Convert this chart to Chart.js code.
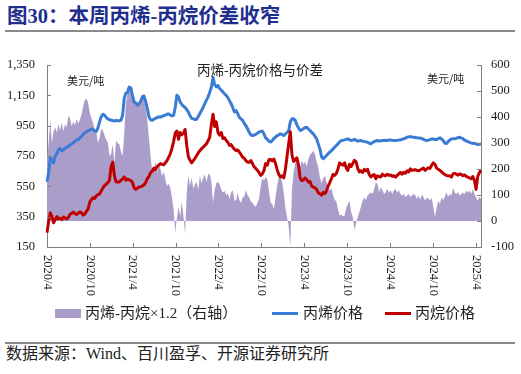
<!DOCTYPE html>
<html lang="zh">
<head>
  <meta charset="UTF-8">
  <title>图30：本周丙烯-丙烷价差收窄</title>
  <script src="https://cdn.jsdelivr.net/npm/chart.js"></script>
  <style>
    body { margin: 0; width: 521px; height: 374px; background: #fff; position: relative; overflow: hidden;
           font-family: "Liberation Serif", "Noto Sans CJK SC", serif; color: #222; }
    .title { position: absolute; left: 7px; top: 4px; font-size: 20.5px; font-weight: bold; color: #1f2f8f; white-space: nowrap; line-height: 24px; }
    .rule { position: absolute; left: 5px; width: 510px; height: 2px; background: #8a8a8a; }
    #wrap { position: absolute; left: 0; top: 40px; width: 521px; height: 265px; }
    .lg { position: absolute; font-size: 15px; line-height: 18px; top: 304px; white-space: nowrap; color: #222; }
    .sw { position: absolute; }
    .source { position: absolute; left: 6px; top: 344px; font-size: 16px; line-height: 19px; white-space: nowrap; color: #222; }
  </style>
</head>
<body>
  <div class="title">图30：本周丙烯-丙烷价差收窄</div>
  <div class="rule" style="top:30px"></div>

  <div id="wrap"><canvas id="chart" width="521" height="265"></canvas></div>

  <!-- legend -->
  <div class="sw" style="left:55px;top:309px;width:26px;height:9px;background:#ab9dc9"></div>
  <div class="lg" style="left:85px">丙烯-丙烷×1.2（右轴）</div>
  <div class="sw" style="left:272px;top:312px;width:26px;height:3px;background:#3a7bd5"></div>
  <div class="lg" style="left:303px">丙烯价格</div>
  <div class="sw" style="left:385px;top:312px;width:26px;height:3px;background:#c00000"></div>
  <div class="lg" style="left:415px">丙烷价格</div>

  <div class="rule" style="top:342px"></div>
  <div class="source">数据来源：Wind、百川盈孚、开源证券研究所</div>

  <script>
    // weekly data, first week 2020/4/1
    const propylene = [
      580,640,740,720,705,750,765,790,800,785,790,800,808,815,822,830,838,848,855,860,868,880,892,903,910,916,922,928,925,915,912,935,975,1010,1025,1020,1005,995,990,985,984,980,985,982,
      983,985,1020,1130,1165,1170,1205,1200,1150,1105,1100,1085,1095,1110,1140,1145,1110,1065,1010,988,985,992,998,1004,1008,1005,1012,1015,1020,1025,1028,1020,1015,1018,1070,1150,1140,1105,1090,1078,1070,1055,1040,1015,998,
      995,990,992,1010,1030,1050,1072,1095,1118,1140,1170,1205,1268,1220,1205,1215,1195,1185,1172,1160,1150,1135,1115,1095,1070,1040,1050,1030,1005,995,985,965,950,930,905,890,885,888,893,900,908,912,914,895,870,
      860,848,842,852,865,875,885,890,896,892,885,895,905,915,975,995,995,985,955,935,918,922,930,938,940,928,918,905,896,880,863,830,797,745,732,742,753,765,775,785,797,808,819,830,843,
      852,853,856,860,862,858,852,855,859,854,848,850,852,848,845,843,841,835,830,838,845,850,852,848,850,852,852,854,852,855,856,853,852,852,853,855,856,860,863,868,874,876,878,875,874,
      872,870,869,868,865,860,855,852,855,858,862,862,858,858,865,870,862,852,835,832,845,855,862,864,863,866,872,874,868,865,855,850,845,840,836,834,832,830,826,828,830
    ];
    const propane = [
      245,320,375,350,310,330,350,335,340,330,348,340,335,345,365,372,380,370,365,372,382,375,360,368,385,400,445,462,475,470,488,495,500,520,540,555,565,575,590,680,710,620,580,578,
      578,590,600,612,590,598,592,588,575,540,530,538,545,548,552,560,575,600,615,640,650,670,660,680,690,700,695,692,705,720,740,765,800,845,900,915,860,905,890,900,925,820,745,722,705,
      720,735,752,770,785,798,808,820,830,850,875,960,1025,945,975,905,888,905,865,870,852,840,820,825,808,795,785,790,775,760,742,735,720,710,708,720,700,678,668,655,640,622,632,655,700,
      690,725,728,718,730,700,660,628,612,620,605,660,745,830,910,760,715,725,738,690,605,588,592,605,595,578,582,552,545,540,530,508,500,492,510,502,520,552,575,600,628,622,635,665,705,
      695,690,705,672,655,695,680,700,722,712,668,645,652,642,662,652,662,628,612,622,628,600,620,614,612,630,622,620,630,622,625,615,620,610,622,632,642,630,642,636,652,645,665,655,658,
      660,655,652,658,665,670,655,665,672,668,690,705,695,670,662,655,645,635,628,622,620,618,612,632,636,630,624,632,628,620,625,615,610,605,600,615,590,530,615,640,655
    ];
    const spread = [
      240,300,385,300,345,360,340,372,350,378,345,372,360,405,395,365,382,368,392,375,388,410,440,465,470,455,418,395,378,350,342,300,320,355,348,330,312,303,250,258,295,222,310,300,
      295,265,250,340,450,490,500,492,468,452,462,440,460,472,488,470,440,390,320,250,190,192,230,185,215,200,172,190,160,135,142,128,90,45,-45,10,55,18,75,20,-50,110,175,135,165,
      125,140,150,120,175,145,165,180,150,178,182,150,70,120,145,150,140,120,110,115,100,105,85,110,118,80,78,108,80,70,90,95,118,100,90,75,70,60,55,70,85,135,165,155,170,
      160,115,70,65,45,90,135,170,175,150,110,50,15,-20,-98,120,185,225,228,200,210,232,218,228,210,238,255,262,270,258,228,205,170,145,165,172,150,125,118,125,100,82,75,45,22,
      25,18,20,50,65,78,35,15,-35,-10,15,35,55,80,90,80,98,105,110,105,122,148,142,112,130,118,105,110,124,110,118,104,118,122,110,118,104,98,104,92,98,104,92,98,104,
      100,85,98,82,102,92,78,90,86,80,88,55,15,50,78,66,90,80,95,110,92,104,98,128,110,104,112,98,104,110,104,116,110,117,104,122,104,90,78,92,85
    ];
    const tickLabels = ['2020/4','2020/10','2021/4','2021/10','2022/4','2022/10','2023/4','2023/10','2024/4','2024/10','2025/4'];
    const innerTitle = '丙烯-丙烷价格与价差';
    const unitText = '美元/吨';

    const DAY = 86400000;
    const start = Date.UTC(2020, 3, 1);
    const weekLabels = [];
    for (let i = 0; i < propylene.length; i++) {
      const d = new Date(start + i * 7 * DAY);
      weekLabels.push(d.getUTCFullYear() + '/' + (d.getUTCMonth() + 1) + '/' + d.getUTCDate());
    }
    // fractional week index of the first day of a "YYYY/M" label
    function weekIndex(lbl) {
      const [yy, mm] = lbl.split('/').map(Number);
      return (Date.UTC(yy, mm - 1, 1) - start) / (7 * DAY);
    }

    const tickFont = { family: '"Liberation Serif", "Times New Roman", serif', size: 12.5 };
    const axisColor = '#7f7f7f';

    const decor = {
      id: 'decor',
      afterDraw(chart) {
        const { ctx, chartArea: a, scales: { x, y, y1 } } = chart;
        ctx.save();
        ctx.strokeStyle = axisColor;
        ctx.lineWidth = 1;
        ctx.beginPath();
        y.ticks.forEach(t => {
          const py = Math.round(y.getPixelForValue(t.value)) + 0.5;
          ctx.moveTo(a.left, py); ctx.lineTo(a.left + 4, py);
        });
        y1.ticks.forEach(t => {
          const py = Math.round(y1.getPixelForValue(t.value)) + 0.5;
          ctx.moveTo(a.right, py); ctx.lineTo(a.right - 4, py);
        });
        tickLabels.forEach(lbl => {
          const px = Math.round(x.getPixelForValue(weekIndex(lbl))) + 0.5;
          ctx.moveTo(px, a.bottom); ctx.lineTo(px, a.bottom - 4);
        });
        ctx.stroke();

        // x labels, rotated clockwise
        ctx.fillStyle = '#1a1a1a';
        ctx.font = '12.5px "Liberation Serif", "Times New Roman", serif';
        ctx.textAlign = 'left';
        ctx.textBaseline = 'middle';
        tickLabels.forEach(lbl => {
          const px = x.getPixelForValue(weekIndex(lbl));
          ctx.save();
          ctx.translate(px, a.bottom + 8);
          ctx.rotate(Math.PI / 2);
          ctx.fillText(lbl, 0, 0);
          ctx.restore();
        });

        ctx.fillStyle = '#222';
        ctx.font = '13.5px "Noto Sans CJK SC"';
        ctx.textAlign = 'center';
        ctx.fillText(innerTitle, 260, a.top + 5);
        ctx.font = '11px "Noto Sans CJK SC"';
        ctx.textAlign = 'left';
        ctx.fillText(unitText, 67, a.top + 16);
        ctx.fillText(unitText, 427, a.top + 14);
        ctx.restore();
      }
    };

    new Chart(document.getElementById('chart'), {
      type: 'line',
      data: {
        labels: weekLabels,
        datasets: [
          {
            label: '丙烯-丙烷×1.2（右轴）',
            data: spread,
            yAxisID: 'y1',
            fill: 'origin',
            backgroundColor: '#ab9dc9',
            borderWidth: 0,
            order: 3
          },
          {
            label: '丙烯价格',
            data: propylene,
            yAxisID: 'y',
            borderColor: '#3a7bd5',
            borderWidth: 3,
            fill: false,
            order: 2
          },
          {
            label: '丙烷价格',
            data: propane,
            yAxisID: 'y',
            borderColor: '#c00000',
            borderWidth: 3,
            fill: false,
            order: 1
          }
        ]
      },
      options: {
        responsive: false,
        animation: false,
        devicePixelRatio: 1,
        layout: { padding: { top: 25, left: 0, right: 0, bottom: 0 } },
        elements: { point: { radius: 0 }, line: { tension: 0, borderJoinStyle: 'round' } },
        plugins: { legend: { display: false }, tooltip: { enabled: false } },
        scales: {
          x: {
            ticks: { display: false },
            grid: { display: true, drawOnChartArea: false, drawTicks: false },
            border: { color: axisColor },
            afterFit: s => { s.height = 58; }
          },
          y: {
            position: 'left',
            min: 150, max: 1350,
            ticks: { stepSize: 200, padding: 12, font: tickFont, color: '#1a1a1a',
                     callback: v => v.toLocaleString('en-US') },
            grid: { display: true, drawOnChartArea: false, drawTicks: false },
            border: { color: axisColor },
            afterFit: s => { s.width = 47; }
          },
          y1: {
            position: 'right',
            min: -100, max: 600,
            ticks: { stepSize: 100, padding: 10, font: tickFont, color: '#1a1a1a' },
            grid: { display: true, drawOnChartArea: false, drawTicks: false },
            border: { color: axisColor },
            afterFit: s => { s.width = 40; }
          }
        }
      },
      plugins: [decor]
    });
  </script>
</body>
</html>
